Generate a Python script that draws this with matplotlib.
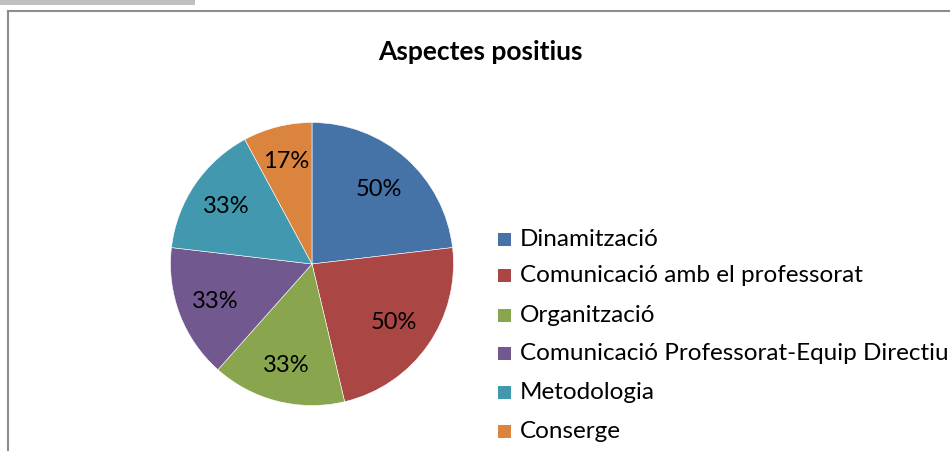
import matplotlib
matplotlib.use("Agg")
import matplotlib.pyplot as plt
import numpy as np
from matplotlib.patches import Rectangle
from matplotlib.lines import Line2D

categories = ["Dinamització", "Comunicació amb el professorat", "Organització",
              "Comunicació Professorat-Equip Directiu", "Metodologia", "Conserge"]
values = [50, 50, 33, 33, 33, 17]
labels = ["50%", "50%", "33%", "33%", "33%", "17%"]
colors = ["#4572A7", "#AA4643", "#89A54E", "#71588F", "#4198AF", "#DB843D"]
title = "Aspectes positius"

W, H = 950, 452
fig = plt.figure(figsize=(W / 100, H / 100), dpi=100)
plt.rcParams['font.family'] = ['Lato', 'DejaVu Sans']

# page decorations: gray box at top-left and chart border
fig.patches.append(Rectangle((0, 1 - 6 / H), 195 / W, 6 / H, transform=fig.transFigure,
                             facecolor="#C0C0C0", edgecolor="none"))
fig.lines.append(Line2D([7.5 / W, 7.5 / W], [0, 1 - 11.5 / H], transform=fig.transFigure,
                        color="#8C8C8C", lw=1.5))
fig.lines.append(Line2D([7.5 / W, 1], [1 - 11.5 / H, 1 - 11.5 / H], transform=fig.transFigure,
                        color="#8C8C8C", lw=1.5))

# pie
cx, cy, r = 312, 265, 141.5
ax = fig.add_axes([(cx - r) / W, (H - cy - r) / H, 2 * r / W, 2 * r / H])
wedges, _ = ax.pie(values, colors=colors, startangle=90, counterclock=False,
                   wedgeprops=dict(edgecolor="white", linewidth=0.4))
ax.set_xlim(-1, 1)
ax.set_ylim(-1, 1)
ax.set_aspect("auto")
ax.axis("off")
total = sum(values)
for w, v, lab in zip(wedges, values, labels):
    ang = np.deg2rad((w.theta1 + w.theta2) / 2)
    d = 0.78 - 0.3 * v / total
    ax.text(d * np.cos(ang), d * np.sin(ang), lab, ha="center", va="center",
            fontsize=17, color="black")

fig.text(480 / W, 1 - 52 / H, title, ha="center", va="center", fontsize=19,
         fontweight="bold")

# legend
ys = [240, 276, 316, 354, 393, 432]
for c, name, y in zip(colors, categories, ys):
    fig.patches.append(Rectangle((498 / W, 1 - (y + 7) / H), 13 / W, 13 / H,
                                 transform=fig.transFigure, facecolor=c, edgecolor="none"))
    fig.text(520 / W, 1 - y / H, name, ha="left", va="center", fontsize=17.5)

fig.savefig("out.png", dpi=100)
